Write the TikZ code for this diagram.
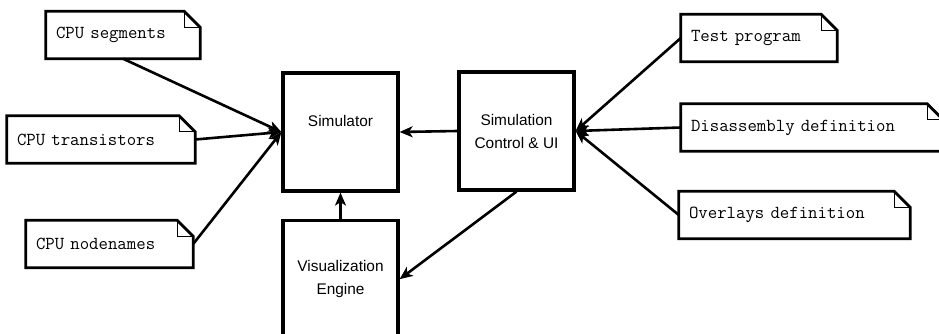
\documentclass[tikz,border=0pt]{standalone}
\usepackage{fontspec}
\setmainfont{Liberation Sans}
\usetikzlibrary{arrows.meta,positioning}

\begin{document}
\begin{tikzpicture}[x=1pt, y=-1pt, >={Stealth[length=13pt,width=11pt,inset=3.5pt]}]
    \tikzstyle{block}=[draw, line width=3.2pt, minimum width=115pt, minimum height=118pt, align=center, font=\fontsize{15.4}{23}\selectfont]
    \tikzstyle{note}=[inner xsep=10pt, inner ysep=0pt, minimum height=47pt, align=left, font=\ttfamily\fontsize{18.3}{20}\selectfont]
    \tikzstyle{outline}=[line width=2.8pt, line join=miter]
    \tikzstyle{fold}=[line width=1pt]
    \tikzstyle{link}=[->, line width=2.6pt]
    \useasboundingbox (0,0) rectangle (939,334);
    \clip (0,0) rectangle (939,334);

    % main blocks
    \node (sim) [block] at (340.5,132) {Simulator\\~};
    \node (ctrl) [block] at (516.5,131) {Simulation\\Control \& UI};
    \node (vis) [block] [below=26pt of sim] {Visualization\\Engine};

    % input files
    \node (seg) [note, text width=134pt] at (123,35) {CPU segments};
    \node (trans) [note, text width=168pt] at (101,139.5) {CPU transistors};
    \node (names) [note, text width=147pt] at (109.5,244) {CPU nodenames};
    \node (test) [note, text width=136pt] at (759,38) {Test program};
    \node (dis) [note, text width=242pt] at (812,127.5) {Disassembly definition};
    \node (over) [note, text width=211pt] at (794.5,215) {Overlays definition};

    \foreach \n in {seg,trans,names,test,dis,over}{
        \draw [outline] (\n.north west) -- ([xshift=-16pt]\n.north east) -- ([yshift=-16pt]\n.north east) -- (\n.south east) -- (\n.south west) -- cycle;
        \draw [fold] ([xshift=-16pt]\n.north east) |- ([yshift=-16pt]\n.north east);
    }

    \draw [link] (seg.south) -- (sim.west);
    \draw [link] (trans.east) -- (sim.west);
    \draw [link] (names.east) -- (sim.west);

    \draw [link] (test.west) -- (ctrl.east);
    \draw [link] (dis.west) -- (ctrl.east);
    \draw [link] (over.west) -- (ctrl.east);

    \draw [link] (ctrl.west) -- (sim.east);
    \draw [link] (vis.north) -- (sim.south);
    \draw [link] (ctrl.south) -- (vis.east);
\end{tikzpicture}
\end{document}
